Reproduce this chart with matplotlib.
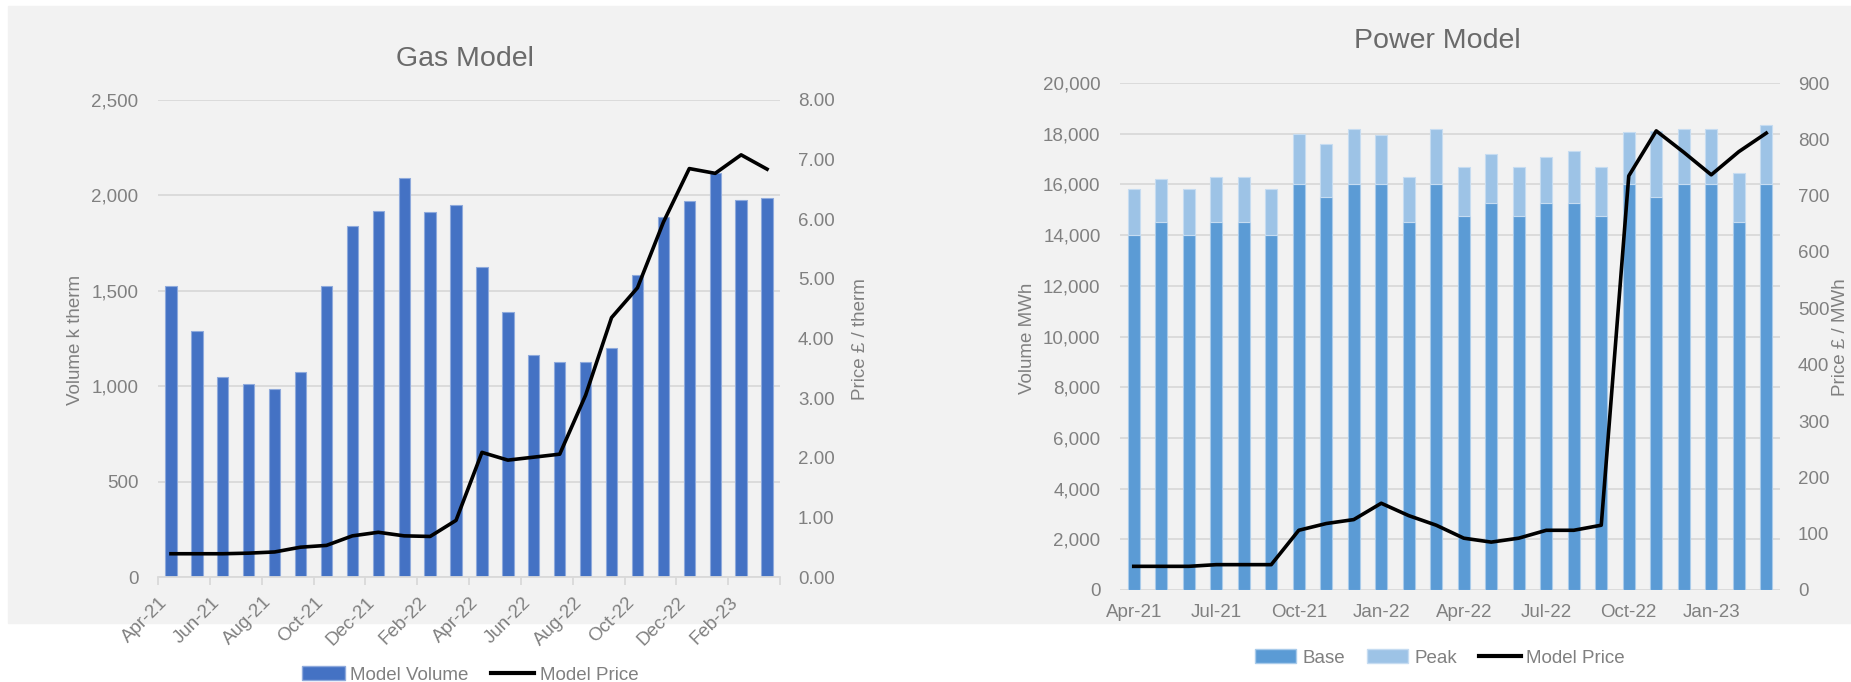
import numpy as np
import matplotlib.pyplot as plt
from matplotlib.patches import Rectangle, Patch
from matplotlib.lines import Line2D

# ── Data ──────────────────────────────────────────────────────────────────────

MONTHS = ["Apr-21", "May-21", "Jun-21", "Jul-21", "Aug-21", "Sep-21",
          "Oct-21", "Nov-21", "Dec-21", "Jan-22", "Feb-22", "Mar-22",
          "Apr-22", "May-22", "Jun-22", "Jul-22", "Aug-22", "Sep-22",
          "Oct-22", "Nov-22", "Dec-22", "Jan-23", "Feb-23", "Mar-23"]

# Gas model: volume (k therm) and price (£ / therm)
GAS_VOLUME = [1525, 1290, 1050, 1010, 985, 1075, 1525, 1840, 1920, 2090,
              1915, 1950, 1625, 1390, 1165, 1125, 1125, 1200, 1585, 1885,
              1970, 2120, 1975, 1985]
GAS_PRICE = [0.39, 0.39, 0.39, 0.40, 0.42, 0.50, 0.53, 0.69, 0.75, 0.69,
             0.68, 0.95, 2.09, 1.96, 2.01, 2.06, 3.05, 4.35, 4.85, 5.95,
             6.85, 6.77, 7.08, 6.84]

# Power model: base + peak volume (MWh), price (£ / MWh)
POWER_BASE = [14000, 14500, 14000, 14500, 14500, 14000, 16000, 15500,
              16000, 16000, 14500, 16000, 14750, 15250, 14750, 15250,
              15250, 14750, 16000, 15500, 16000, 16000, 14500, 16000]
POWER_PEAK = [1800, 1700, 1800, 1800, 1800, 1800, 2000, 2100, 2200, 1950,
              1800, 2200, 1950, 1950, 1950, 1850, 2050, 1950, 2050, 2600,
              2200, 2200, 1950, 2330]
POWER_PRICE = [42, 42, 42, 45, 45, 45, 106, 118, 125, 154, 132, 115, 92,
               85, 92, 106, 106, 115, 735, 815, 777, 737, 778, 811]

# ── Style ─────────────────────────────────────────────────────────────────────

W, H = 1851, 682
BG = "#f2f2f2"
GRID = "#d9d9d9"
TXT = "#808080"
TITLE = "#6a6a6a"
GAS_BAR, GAS_EDGE = "#4472c4", "#8faadc"
BASE_BAR, PEAK_BAR = "#5b9bd5", "#9dc3e6"
FS = 13.5

plt.rcParams["font.family"] = ["Liberation Sans", "DejaVu Sans"]


def px_axes(fig, x0, y0, x1, y1):
    return fig.add_axes([x0 / W, 1 - y1 / H, (x1 - x0) / W, (y1 - y0) / H])


def clean(ax):
    for s in ax.spines.values():
        s.set_visible(False)
    ax.set_facecolor("none")
    ax.tick_params(axis="both", colors=TXT, labelsize=FS, length=0)


fig = plt.figure(figsize=(W / 100, H / 100), dpi=100)
fig.patches.append(Rectangle((8 / W, 1 - 623 / H), (W - 8) / W, 617 / H,
                             transform=fig.transFigure, color=BG, zorder=-10))

x = np.arange(len(MONTHS))

# ── Gas model ─────────────────────────────────────────────────────────────────
ax = px_axes(fig, 158, 100, 780, 577)
clean(ax)
ax.bar(x, GAS_VOLUME, width=0.44, color=GAS_BAR, edgecolor=GAS_EDGE, lw=0.8)
ax.set_xlim(-0.5, len(MONTHS) - 0.5)
ax.set_ylim(0, 2500)
ax.set_yticks(range(0, 2501, 500))
ax.set_yticklabels([f"{v:,}" for v in range(0, 2501, 500)])
ax.yaxis.grid(True, color=GRID, lw=1.3)
ax.set_axisbelow(True)
ax.tick_params(axis="y", pad=14)
ax.spines["bottom"].set_visible(True)
ax.spines["bottom"].set_color(GRID)
ax.spines["bottom"].set_linewidth(1.3)
ax.set_xticks(x[::2])
ax.set_xticklabels(MONTHS[::2], rotation=45, ha="right", va="top")
ax.tick_params(axis="x", pad=12)
ax.set_xticks(np.arange(-0.5, len(MONTHS), 2), minor=True)
ax.tick_params(axis="x", which="minor", length=6, color=GRID, width=1.3)

ax2 = ax.twinx()
clean(ax2)
ax2.plot(x, GAS_PRICE, color="black", lw=2.6, solid_joinstyle="round")
ax2.set_ylim(0, 8)
ax2.set_yticks(range(0, 9))
ax2.set_yticklabels([f"{v:.2f}" for v in range(0, 9)])
ax2.tick_params(axis="y", pad=13)

fig.text(465 / W, 1 - 59 / H, "Gas Model", ha="center", va="center",
         fontsize=20.5, color=TITLE)
fig.text(75 / W, 1 - 340 / H, "Volume k therm", rotation=90, ha="center",
         va="center", fontsize=FS, color=TXT)
fig.text(860 / W, 1 - 339 / H, "Price £ / therm", rotation=90, ha="center",
         va="center", fontsize=FS, color=TXT)

fig.legend(handles=[Patch(facecolor=GAS_BAR, edgecolor=GAS_EDGE),
                    Line2D([], [], color="black", lw=3)],
           labels=["Model Volume", "Model Price"],
           loc="center", bbox_to_anchor=(470 / W, 1 - 675 / H), ncol=2,
           frameon=False, fontsize=FS, labelcolor=TXT, handlelength=2.3,
           handletextpad=0.3, columnspacing=1.2)

# ── Power model ───────────────────────────────────────────────────────────────
bx = px_axes(fig, 1120, 83, 1780, 590)
clean(bx)
bx.bar(x, POWER_BASE, width=0.42, color=BASE_BAR, edgecolor="#a9cbea", lw=0.8)
bx.bar(x, POWER_PEAK, bottom=POWER_BASE, width=0.42, color=PEAK_BAR,
       edgecolor="#c6dcf1", lw=0.8)
bx.set_xlim(-0.5, len(MONTHS) - 0.5)
bx.set_ylim(0, 20000)
bx.set_yticks(range(0, 20001, 2000))
bx.set_yticklabels([f"{v:,}" for v in range(0, 20001, 2000)])
bx.yaxis.grid(True, color=GRID, lw=1.3)
bx.set_axisbelow(True)
bx.tick_params(axis="y", pad=14)
bx.set_xticks(x[::3])
bx.set_xticklabels(MONTHS[::3])
bx.tick_params(axis="x", pad=10)

bx2 = bx.twinx()
clean(bx2)
bx2.plot(x, POWER_PRICE, color="black", lw=2.6, solid_joinstyle="round")
bx2.set_ylim(0, 900)
bx2.set_yticks(range(0, 901, 100))
bx2.tick_params(axis="y", pad=13)

fig.text(1437 / W, 1 - 41 / H, "Power Model", ha="center", va="center",
         fontsize=20.5, color=TITLE)
fig.text(1027 / W, 1 - 338 / H, "Volume MWh", rotation=90, ha="center",
         va="center", fontsize=FS, color=TXT)
fig.text(1840 / W, 1 - 337 / H, "Price £ / MWh", rotation=90, ha="center",
         va="center", fontsize=FS, color=TXT)

fig.legend(handles=[Patch(facecolor=BASE_BAR, edgecolor="#a9cbea"),
                    Patch(facecolor=PEAK_BAR, edgecolor="#c6dcf1"),
                    Line2D([], [], color="black", lw=3)],
           labels=["Base", "Peak", "Model Price"],
           loc="center", bbox_to_anchor=(1440 / W, 1 - 658 / H), ncol=3,
           frameon=False, fontsize=FS, labelcolor=TXT, handlelength=2.2,
           handletextpad=0.3, columnspacing=1.2)

fig.savefig("out.png", dpi=100)
